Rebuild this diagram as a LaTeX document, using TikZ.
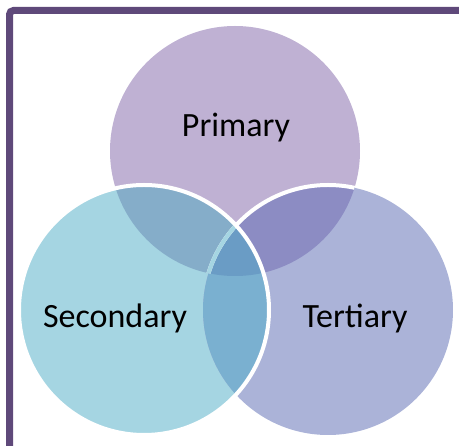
\documentclass[tikz,border=0pt]{standalone}
\usepackage{fontspec}
\setmainfont{Carlito}
\definecolor{framecol}{HTML}{5F497A}
\definecolor{primcol}{HTML}{BFB1D3}
\definecolor{seccol}{HTML}{A5D5E2}
\definecolor{tercol}{HTML}{ABB3D8}
\definecolor{pscol}{HTML}{85ADC9}
\definecolor{ptcol}{HTML}{8C8CC3}
\definecolor{stcol}{HTML}{7AB0D0}
\definecolor{pstcol}{HTML}{6A9CC5}
\newcommand{\vrad}{125pt}
\tikzset{
  venntext/.style={anchor=base, font=\fontsize{34}{40}\selectfont, text=black, inner sep=0pt},
  whiteline/.style={draw=white, line width=4pt}
}

\begin{document}
\begin{tikzpicture}[x=1pt, y=-1pt]
    \useasboundingbox (0, 0) rectangle (459, 446);
    \coordinate (cP) at (235, 151);
    \coordinate (cS) at (144, 310);
    \coordinate (cT) at (328, 310);

    % frame
    \draw[framecol, line width=7pt, rounded corners=4pt](9.5, 450)--(9.5, 10.5)--(465, 10.5);

    % discs
    \fill[primcol](cP) circle[radius=\vrad];
    \fill[seccol](cS) circle[radius=\vrad];
    \fill[tercol](cT) circle[radius=\vrad];

    % overlaps
    \begin{scope}
      \clip (cP) circle[radius=\vrad];
      \fill[pscol](cS) circle[radius=\vrad];
      \fill[ptcol](cT) circle[radius=\vrad];
    \end{scope}
    \begin{scope}
      \clip (cS) circle[radius=\vrad];
      \fill[stcol](cT) circle[radius=\vrad];
      \clip (cP) circle[radius=\vrad];
      \fill[pstcol](cT) circle[radius=\vrad];
    \end{scope}

    % outlines
    \begin{scope}
      \clip (cP) circle[radius=\vrad];
      \draw[whiteline](cT) circle[radius=\vrad];
      \clip (cS) circle[radius=\vrad];
      \draw[whiteline, draw=seccol](cT) circle[radius=\vrad];
    \end{scope}
    \draw[whiteline](cS) circle[radius=\vrad];

    % labels
    \node[venntext] (tP) at (236, 137){Primary};
    \node[venntext] (tS) at (115, 328){Secondary};
    \node[venntext] (tT) at (355, 328){Tertiary};
\end{tikzpicture}
\end{document}
